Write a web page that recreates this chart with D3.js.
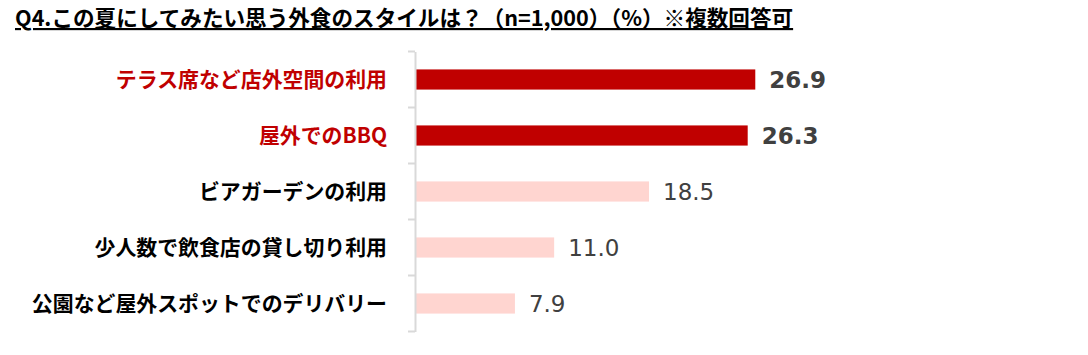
<!DOCTYPE html>
<html><head><meta charset="utf-8">
<script src="https://cdn.jsdelivr.net/npm/d3@7"></script>
<style>
body{margin:0;background:#fff;}
svg{display:block;font-family:"Noto Sans CJK JP","Noto Sans",sans-serif;}
</style></head>
<body><svg id="c" width="1088" height="355"></svg>
<script>
const titleText = "Q4.この夏にしてみたい思う外食のスタイルは？（n=1,000）（%）※複数回答可";
const categories = ["テラス席など店外空間の利用","屋外でのBBQ","ビアガーデンの利用","少人数で飲食店の貸し切り利用","公園など屋外スポットでのデリバリー"];
const values = [26.9, 26.3, 18.5, 11.0, 7.9];
const highlighted = [true, true, false, false, false];

const svg = d3.select("#c");
const x = d3.scaleLinear().domain([0, 30]).range([415, 415 + 30 * 12.65]);
const y = d3.scaleBand().domain(categories).range([51.5, 331.5]).paddingInner(0.64).paddingOuter(0.32);

// title
svg.append("text").attr("x", 15).attr("y", 26)
  .attr("font-size", 21.6).attr("font-weight", "bold").attr("fill", "#000")
  .attr("text-decoration", "underline").text(titleText);

// bars
svg.selectAll("rect.bar").data(values).join("rect").attr("class","bar")
  .attr("x", x(0)).attr("y", (d,i)=>y(categories[i]))
  .attr("width", d=>x(d)-x(0)).attr("height", y.bandwidth())
  .attr("fill", (d,i)=>highlighted[i] ? "#c00000" : "#ffd5d0");

// axis
const axis = d3.axisLeft(y).tickSize(0).tickFormat("");
const g = svg.append("g").attr("transform", `translate(${x(0)},0)`).call(axis);
g.select(".domain").attr("stroke", "#d9d9d9").attr("stroke-width", 2);
const step = y.step();
const bounds = d3.range(categories.length + 1).map(i => y.range()[0] + i * step);
g.selectAll("line.bt").data(bounds).join("line").attr("class","bt")
  .attr("x1", -7).attr("x2", 0).attr("y1", d=>d).attr("y2", d=>d)
  .attr("stroke", "#d9d9d9").attr("stroke-width", 2);

// category labels
svg.selectAll("text.cat").data(categories).join("text").attr("class","cat")
  .attr("x", 387).attr("y", d=>y(d)+y.bandwidth()/2).attr("dy","0.36em")
  .attr("text-anchor","end").attr("font-size", 20.9).attr("font-weight","bold")
  .attr("fill", (d,i)=>highlighted[i] ? "#c00000" : "#000").text(d=>d);

// value labels
svg.selectAll("text.val").data(values).join("text").attr("class","val")
  .attr("x", d=>x(d)+14).attr("y", (d,i)=>y(categories[i])+y.bandwidth()/2).attr("dy","0.36em")
  .attr("font-family","Verdana,'DejaVu Sans',sans-serif")
  .attr("font-size", 23).attr("font-weight", (d,i)=>highlighted[i] ? "bold" : "normal")
  .attr("fill", "#404040").text(d=>d.toFixed(1));
</script></body></html>
